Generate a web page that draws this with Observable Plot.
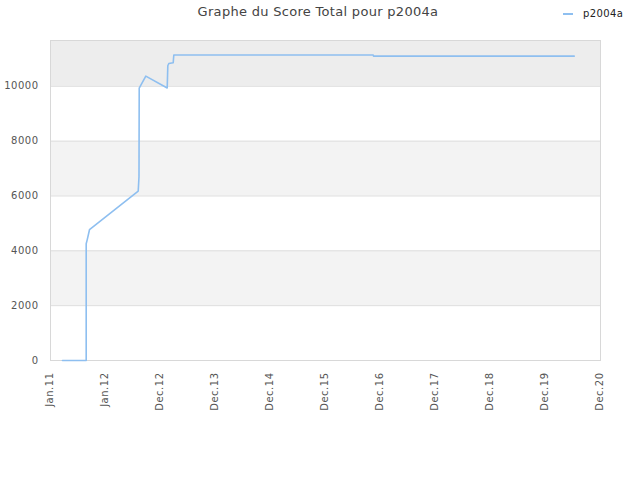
<!DOCTYPE html>
<html>
<head>
<meta charset="utf-8">
<script src="https://cdn.jsdelivr.net/npm/d3@7"></script>
<script src="https://cdn.jsdelivr.net/npm/@observablehq/plot@0.6"></script>
<style>
  body { margin: 0; background: #fff; font-family: "DejaVu Sans", sans-serif; }
  #wrap { position: relative; width: 640px; height: 480px; }
  #title { position: absolute; top: 4px; left: 0; width: 636px; text-align: center; font-size: 13px; color: #444; letter-spacing: 0.3px; }
  #legend { position: absolute; top: 8px; left: 563px; font-size: 10px; color: #222; display: flex; align-items: center; letter-spacing: 0.4px; }
  #legend .sw { width: 10px; height: 2px; background: #8ebff0; margin-right: 10px; }
  svg text { letter-spacing: 0.5px; }
</style>
</head>
<body>
<div id="wrap">
  <div id="title">Graphe du Score Total pour p2004a</div>
  <div id="legend"><span class="sw"></span><span>p2004a</span></div>
  <div id="chart"></div>
</div>
<script>
// X positions are on an index scale where each tick label sits at an integer
const tickLabels = ["Jan.11","Jan.12","Dec.12","Dec.13","Dec.14","Dec.15","Dec.16","Dec.17","Dec.18","Dec.19","Dec.20"];
const yTicks = [0, 2000, 4000, 6000, 8000, 10000];
const yMax = 11670;

// series p2004a
const seriesX = [0.218, 0.649, 0.649, 0.667, 0.709, 1.595, 1.609, 1.613, 1.733, 2.122, 2.133, 2.151, 2.231, 2.242, 5.867, 5.873, 9.522];
const seriesY = [0, 0, 4260, 4400, 4770, 6180, 6700, 9930, 10370, 9940, 10750, 10830, 10860, 11140, 11140, 11100, 11100];

const points = seriesX.map((x, i) => ({x, y: seriesY[i]}));
const bandFills = ["#ffffff", "#f3f3f3", "#ffffff", "#f3f3f3", "#ffffff", "#ededed"];
const bands = yTicks.map((t, i) => ({y1: t, y2: i + 1 < yTicks.length ? yTicks[i + 1] : yMax, fill: bandFills[i]}));
const tickIdx = tickLabels.map((_, i) => i);

const chart = Plot.plot({
  width: 640,
  height: 480,
  marginTop: 40,
  marginLeft: 50,
  marginRight: 40,
  marginBottom: 120,
  style: {fontFamily: "DejaVu Sans, sans-serif", fontSize: "10px", color: "#555", background: "transparent"},
  x: {domain: [0, tickLabels.length - 1], label: null},
  y: {domain: [0, yMax], label: null},
  color: {type: "identity"},
  marks: [
    Plot.rect(bands, {x1: 0, x2: tickLabels.length - 1, y1: "y1", y2: "y2", fill: "fill"}),
    Plot.ruleY(yTicks, {stroke: "#dddddd"}),
    Plot.frame({stroke: "#d8d8d8"}),
    Plot.axisY({ticks: yTicks, tickSize: 0, tickPadding: 12, tickFormat: d => String(d), label: null, fill: "#555"}),
    Plot.axisX({ticks: tickIdx, tickSize: 0, tickPadding: 12, tickRotate: -90, tickFormat: i => tickLabels[i], label: null, fill: "#555", dx: -1}),
    Plot.line(points, {x: "x", y: "y", stroke: "#8ebff0", strokeWidth: 1.6})
  ]
});
document.getElementById("chart").appendChild(chart);
</script>
</body>
</html>
